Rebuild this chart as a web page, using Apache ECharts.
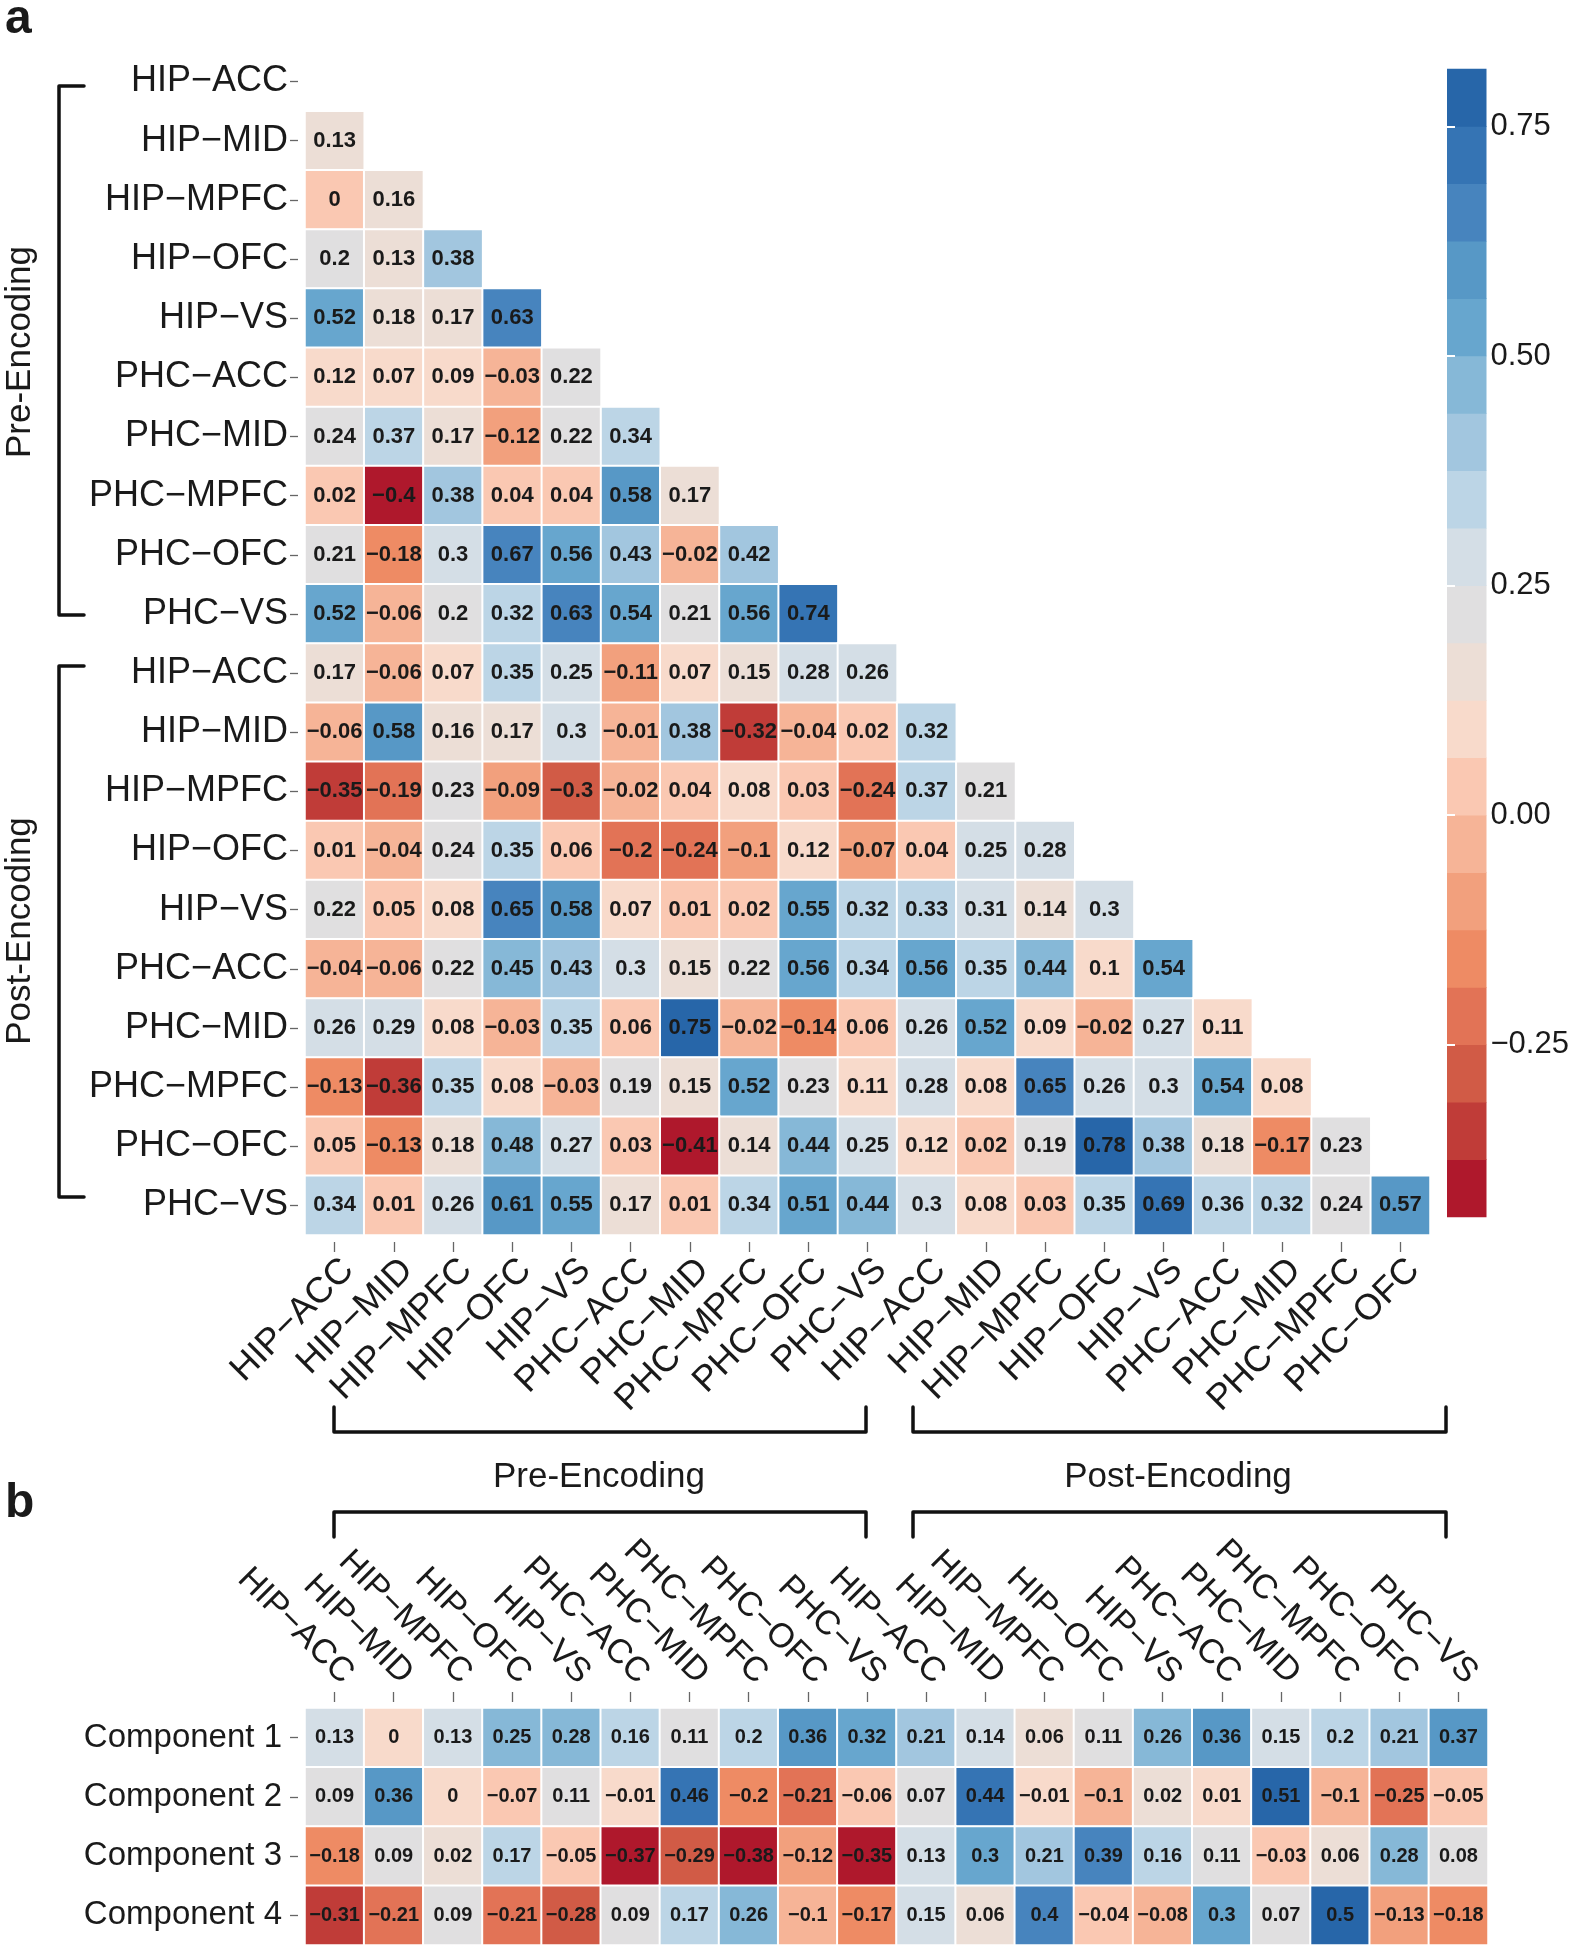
<!DOCTYPE html>
<html><head><meta charset="utf-8">
<script src="https://cdn.jsdelivr.net/npm/echarts@6/dist/echarts.min.js"></script>
<style>html,body{margin:0;padding:0;background:#fff}#c{width:1574px;height:1950px}</style>
</head><body><div id="c"></div>
<script>
// ---------- data ----------
const regions = ['HIP\u2212ACC','HIP\u2212MID','HIP\u2212MPFC','HIP\u2212OFC','HIP\u2212VS','PHC\u2212ACC','PHC\u2212MID','PHC\u2212MPFC','PHC\u2212OFC','PHC\u2212VS'];
const phases = ['Pre-Encoding','Post-Encoding'];
// lower triangle of the correlation matrix, pre-encoding rows
const preRows = [
  [],
  [0.13],
  [0, 0.16],
  [0.2, 0.13, 0.38],
  [0.52, 0.18, 0.17, 0.63],
  [0.12, 0.07, 0.09, -0.03, 0.22],
  [0.24, 0.37, 0.17, -0.12, 0.22, 0.34],
  [0.02, -0.4, 0.38, 0.04, 0.04, 0.58, 0.17],
  [0.21, -0.18, 0.3, 0.67, 0.56, 0.43, -0.02, 0.42],
  [0.52, -0.06, 0.2, 0.32, 0.63, 0.54, 0.21, 0.56, 0.74]
];
// post-encoding rows
const postRows = [
  [0.17, -0.06, 0.07, 0.35, 0.25, -0.11, 0.07, 0.15, 0.28, 0.26],
  [-0.06, 0.58, 0.16, 0.17, 0.3, -0.01, 0.38, -0.32, -0.04, 0.02, 0.32],
  [-0.35, -0.19, 0.23, -0.09, -0.3, -0.02, 0.04, 0.08, 0.03, -0.24, 0.37, 0.21],
  [0.01, -0.04, 0.24, 0.35, 0.06, -0.2, -0.24, -0.1, 0.12, -0.07, 0.04, 0.25, 0.28],
  [0.22, 0.05, 0.08, 0.65, 0.58, 0.07, 0.01, 0.02, 0.55, 0.32, 0.33, 0.31, 0.14, 0.3],
  [-0.04, -0.06, 0.22, 0.45, 0.43, 0.3, 0.15, 0.22, 0.56, 0.34, 0.56, 0.35, 0.44, 0.1, 0.54],
  [0.26, 0.29, 0.08, -0.03, 0.35, 0.06, 0.75, -0.02, -0.14, 0.06, 0.26, 0.52, 0.09, -0.02, 0.27, 0.11],
  [-0.13, -0.36, 0.35, 0.08, -0.03, 0.19, 0.15, 0.52, 0.23, 0.11, 0.28, 0.08, 0.65, 0.26, 0.3, 0.54, 0.08],
  [0.05, -0.13, 0.18, 0.48, 0.27, 0.03, -0.41, 0.14, 0.44, 0.25, 0.12, 0.02, 0.19, 0.78, 0.38, 0.18, -0.17, 0.23],
  [0.34, 0.01, 0.26, 0.61, 0.55, 0.17, 0.01, 0.34, 0.51, 0.44, 0.3, 0.08, 0.03, 0.35, 0.69, 0.36, 0.32, 0.24, 0.57]
];
const componentLabels = ['Component 1','Component 2','Component 3','Component 4'];
const component1 = [0.13, 0, 0.13, 0.25, 0.28, 0.16, 0.11, 0.2, 0.36, 0.32, 0.21, 0.14, 0.06, 0.11, 0.26, 0.36, 0.15, 0.2, 0.21, 0.37];
const component2 = [0.09, 0.36, 0, -0.07, 0.11, -0.01, 0.46, -0.2, -0.21, -0.06, 0.07, 0.44, -0.01, -0.1, 0.02, 0.01, 0.51, -0.1, -0.25, -0.05];
const component3 = [-0.18, 0.09, 0.02, 0.17, -0.05, -0.37, -0.29, -0.38, -0.12, -0.35, 0.13, 0.3, 0.21, 0.39, 0.16, 0.11, -0.03, 0.06, 0.28, 0.08];
const component4 = [-0.31, -0.21, 0.09, -0.21, -0.28, 0.09, 0.17, 0.26, -0.1, -0.17, 0.15, 0.06, 0.4, -0.04, -0.08, 0.3, 0.07, 0.5, -0.13, -0.18];
const colorbarTicks = [0.75, 0.5, 0.25, 0, -0.25];
const scaleA = [-0.4375, 0.8125];
const scaleB = [-0.39, 0.52];
const palette = ['#AF182C','#C03C38','#D15B46','#E27356','#EE8B64','#F2A07D','#F6B497','#FAC8B2','#F8DACB','#ECDED6',
                 '#E0DFE0','#D4DEE6','#BCD5E6','#A2C6DF','#86B8D7','#67A6CE','#5798C6','#4784BE','#3574B4','#2766A9'];

// ---------- build ----------
const FONT = '"Liberation Sans", Arial, Helvetica, sans-serif';
const TXT = '#1a1a1a';
const fmt = v => String(v).replace('-', '\u2212');
const keys = [];
phases.forEach((ph, pi) => regions.forEach(r => keys.push(pi + '|' + r)));
const rowKeysA = keys.slice();
const colKeysA = keys.slice(0, 19);
const colKeysB = keys.slice();
const strip = k => k.split('|')[1];

const dataA = [];
preRows.concat(postRows).forEach((row, i) => row.forEach((v, j) => dataA.push([j, i, v])));
const dataB = [];
[component1, component2, component3, component4].forEach((arr, r) => arr.forEach((v, c) => dataB.push([c, r, v])));

function pieces(range) {
  const n = palette.length, step = (range[1] - range[0]) / n, out = [];
  for (let k = 0; k < n; k++) {
    const lo = range[0] + k * step, hi = range[0] + (k + 1) * step;
    out.push(k === n - 1 ? {gte: lo, lte: hi + 1e-9, color: palette[k]} : {gte: lo, lt: hi, color: palette[k]});
  }
  return out;
}
const binsA = pieces(scaleA).map((p, k) => [k, p.gte, p.lt !== undefined ? p.lt : p.lte]);

const chart = echarts.init(document.getElementById('c'), null, {renderer: 'canvas', width: 1574, height: 1950});

const catAxisCommon = {
  axisLine: {show: false},
  splitLine: {show: false},
  splitArea: {show: false}
};

const bracket = pts => ({type: 'polyline', shape: {points: pts}, style: {stroke: '#111', lineWidth: 3.5, fill: null, lineJoin: 'round', lineCap: 'round'}, silent: true});
const label = (text, x, y, size, opts) => Object.assign({
  type: 'text', x: x, y: y, silent: true,
  style: {text: text, font: (opts && opts.bold ? 'bold ' : '') + size + 'px ' + FONT, fill: TXT,
          textAlign: opts && opts.left ? 'left' : 'center', align: opts && opts.left ? 'left' : 'center',
          textVerticalAlign: 'middle', verticalAlign: 'middle'}
}, opts && opts.rot ? {rotation: opts.rot} : {});

chart.setOption({
  animation: false,
  backgroundColor: '#fff',
  grid: [
    {left: 305, top: 52, width: 1125, height: 1183},
    {left: 305, top: 1708, width: 1183, height: 237},
    {left: 1447, top: 69, width: 39.5, height: 1148}
  ],
  xAxis: [
    Object.assign({}, catAxisCommon, {
      type: 'category', gridIndex: 0, data: colKeysA, position: 'bottom', offset: 7,
      axisTick: {show: true, alignWithLabel: true, interval: 0, length: 10, lineStyle: {color: '#666', width: 1.3}},
      axisLabel: {interval: 0, rotate: 45, margin: 36, padding: [0, -19, 0, 0], formatter: strip,
                  fontFamily: FONT, fontSize: 36, color: TXT}
    }),
    Object.assign({}, catAxisCommon, {
      type: 'category', gridIndex: 1, data: colKeysB, position: 'top', offset: 6,
      axisTick: {show: true, alignWithLabel: true, interval: 0, length: 10, lineStyle: {color: '#666', width: 1.3}},
      axisLabel: {interval: 0, rotate: 45, margin: 37, padding: [0, -19, 0, 0], formatter: strip,
                  fontFamily: FONT, fontSize: 34, color: TXT}
    }),
    {type: 'value', gridIndex: 2, min: 0, max: 1, show: false}
  ],
  yAxis: [
    Object.assign({}, catAxisCommon, {
      type: 'category', gridIndex: 0, data: rowKeysA, inverse: true, offset: 7,
      axisTick: {show: true, alignWithLabel: true, interval: 0, length: 8, lineStyle: {color: '#666', width: 1.3}},
      axisLabel: {interval: 0, margin: 10, formatter: strip, fontFamily: FONT, fontSize: 36, color: TXT}
    }),
    Object.assign({}, catAxisCommon, {
      type: 'category', gridIndex: 1, data: componentLabels, inverse: true, offset: 7,
      axisTick: {show: true, alignWithLabel: true, interval: 0, length: 8, lineStyle: {color: '#666', width: 1.3}},
      axisLabel: {interval: 0, margin: 16, fontFamily: FONT, fontSize: 33, color: TXT}
    }),
    {
      type: 'value', gridIndex: 2, min: scaleA[0], max: scaleA[1], position: 'right', z: 10,
      axisLine: {show: false}, splitLine: {show: false},
      axisTick: {show: true, inside: true, length: 8, customValues: colorbarTicks, lineStyle: {color: '#fff', width: 2}},
      axisLabel: {show: true, customValues: colorbarTicks, margin: 4, fontFamily: FONT, fontSize: 31, color: TXT,
                  formatter: v => Number(v).toFixed(2).replace('-', '\u2212')}
    },
    {
      type: 'value', gridIndex: 2, min: scaleA[0], max: scaleA[1], position: 'left', z: 10,
      axisLine: {show: false}, splitLine: {show: false},
      axisTick: {show: true, inside: true, length: 8, customValues: colorbarTicks, lineStyle: {color: '#fff', width: 2}},
      axisLabel: {show: false}
    }
  ],
  visualMap: [
    {type: 'piecewise', show: false, seriesIndex: 0, dimension: 2, pieces: pieces(scaleA)},
    {type: 'piecewise', show: false, seriesIndex: 1, dimension: 2, pieces: pieces(scaleB)}
  ],
  series: [
    {
      type: 'heatmap', xAxisIndex: 0, yAxisIndex: 0, data: dataA,
      itemStyle: {borderColor: '#fff', borderWidth: 2},
      label: {show: true, formatter: p => fmt(p.value[2]), fontFamily: FONT, fontWeight: 'bold', fontSize: 22, color: TXT},
      emphasis: {disabled: true}
    },
    {
      type: 'heatmap', xAxisIndex: 1, yAxisIndex: 1, data: dataB,
      itemStyle: {borderColor: '#fff', borderWidth: 2},
      label: {show: true, formatter: p => fmt(p.value[2]), fontFamily: FONT, fontWeight: 'bold', fontSize: 20, color: TXT},
      emphasis: {disabled: true}
    },
    {
      type: 'custom', xAxisIndex: 2, yAxisIndex: 2, data: binsA, clip: false, silent: true,
      renderItem: (params, api) => {
        const k = api.value(0), lo = api.value(1), hi = api.value(2);
        const p1 = api.coord([0, hi]), p2 = api.coord([1, lo]);
        return {type: 'rect', shape: {x: p1[0], y: p1[1] - 0.3, width: p2[0] - p1[0], height: p2[1] - p1[1] + 0.6},
                style: {fill: palette[k]}};
      }
    }
  ],
  graphic: {elements: [
    bracket([[84, 86], [59, 86], [59, 615], [84, 615]]),
    bracket([[84, 666], [59, 666], [59, 1197], [84, 1197]]),
    bracket([[334, 1407], [334, 1432], [866, 1432], [866, 1407]]),
    bracket([[913, 1407], [913, 1432], [1446, 1432], [1446, 1407]]),
    bracket([[334, 1537], [334, 1512], [866, 1512], [866, 1537]]),
    bracket([[913, 1537], [913, 1512], [1446, 1512], [1446, 1537]]),
    label(phases[0], 20, 352, 35, {rot: Math.PI / 2}),
    label(phases[1], 20, 931, 35, {rot: Math.PI / 2}),
    label(phases[0], 599, 1477, 35),
    label(phases[1], 1178, 1477, 35),
    label('a', 5, 20, 48, {bold: true, left: true}),
    label('b', 5, 1504, 48, {bold: true, left: true})
  ]}
});
</script>
</body></html>
